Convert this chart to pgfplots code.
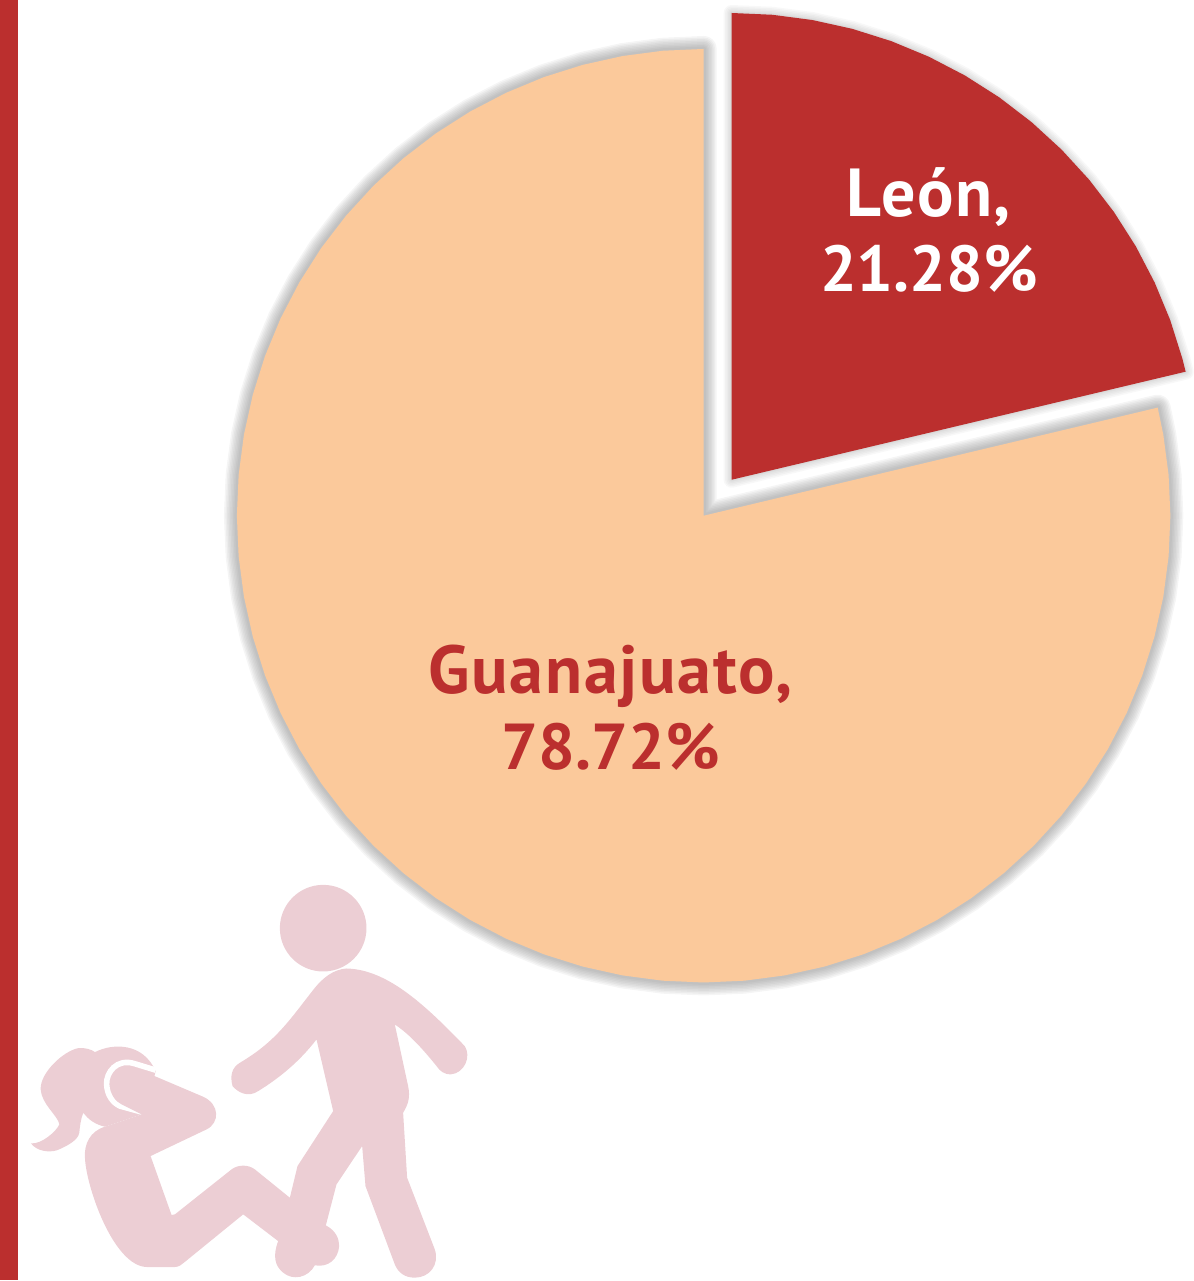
\documentclass[border=0pt]{standalone}
\usepackage{fontspec}
\setmainfont{PT Sans}[LetterSpace=2.5]
\newfontfamily\digitfont{PT Sans}[LetterSpace=0]
\usepackage{pgfplots}
\usepackage{pgfplotstable}
\pgfplotsset{compat=1.18}
\definecolor{pieRed}{RGB}{187,47,46}
\definecolor{piePeach}{RGB}{251,201,155}
\definecolor{iconPink}{RGB}{236,206,212}
% Shares: Leon 21.28 %, Guanajuato 78.72 %; slices as (angle, radius), apex first.
\pgfplotstableread{
a r
0 0
90 467
85 467
80 467
75 467
70 467
65 467
60 467
55 467
50 467
45 467
40 467
35 467
30 467
25 467
20 467
15 467
13.39 467
}\leonSlice
\pgfplotstableread{
a r
0 0
13.39 467
10 467
5 467
0 467
-5 467
-10 467
-15 467
-20 467
-25 467
-30 467
-35 467
-40 467
-45 467
-50 467
-55 467
-60 467
-65 467
-70 467
-75 467
-80 467
-85 467
-90 467
-95 467
-100 467
-105 467
-110 467
-115 467
-120 467
-125 467
-130 467
-135 467
-140 467
-145 467
-150 467
-155 467
-160 467
-165 467
-170 467
-175 467
-180 467
-185 467
-190 467
-195 467
-200 467
-205 467
-210 467
-215 467
-220 467
-225 467
-230 467
-235 467
-240 467
-245 467
-250 467
-255 467
-260 467
-265 467
-270 467
}\guanSlice
\pgfplotsset{softshadow/.style={draw=black!55,line join=round,fill=none,no markers,data cs=polar,line width=#1}}
\begin{document}
\begin{tikzpicture}
% icons, in coordinates of a 3x grid
\begin{scope}[x=0.16667pt,y=-0.16667pt,shift={(0pt,205.5pt)}]
\fill[iconPink] (970,176) circle (130);
% man
\fill[iconPink] (1040,297) .. controls (1160,300) and (1270,400) .. (1395,530)
  .. controls (1415,560) and (1395,612) .. (1352,615)
  .. controls (1335,615) and (1320,605) .. (1312,592)
  .. controls (1270,540) and (1230,495) .. (1185,465)
  -- (1225,650) .. controls (1232,685) and (1225,705) .. (1210,730)
  -- (1222,925) -- (1305,1140)
  .. controls (1320,1185) and (1290,1225) .. (1245,1225)
  .. controls (1215,1225) and (1195,1210) .. (1185,1185)
  -- (1097,950) -- (1087,830) -- (1010,945) -- (978,1068)
  .. controls (1010,1085) and (1018,1110) .. (1018,1130)
  .. controls (1015,1170) and (985,1195) .. (945,1188)
  .. controls (925,1225) and (880,1235) .. (850,1210)
  .. controls (825,1190) and (818,1160) .. (835,1115)
  -- (870,985) -- (893,890) -- (1000,725) -- (950,510)
  .. controls (900,575) and (840,625) .. (775,665)
  .. controls (745,685) and (715,670) .. (698,650)
  .. controls (690,620) and (695,595) .. (720,580)
  .. controls (830,515) and (870,450) .. (945,355)
  .. controls (970,325) and (1000,300) .. (1040,297) -- cycle;
% woman: hair and head
\fill[iconPink] (285,548) .. controls (340,520) and (430,520) .. (467,605)
  -- (440,730) -- (315,772)
  .. controls (285,765) and (265,750) .. (250,730)
  .. controls (242,750) and (240,770) .. (238,790)
  .. controls (235,815) and (190,835) .. (170,843)
  .. controls (145,850) and (110,845) .. (93,822)
  .. controls (125,825) and (170,785) .. (178,765)
  .. controls (175,740) and (125,705) .. (122,660)
  .. controls (120,610) and (190,545) .. (235,536)
  .. controls (255,534) and (275,540) .. (285,548) -- cycle;
\draw[white,line width=2.8pt] (467,602) -- (405,583) .. controls (350,565) and (318,610) .. (320,645)
  .. controls (322,680) and (340,700) .. (360,710) -- (440,732);
% woman: body, arm and leg
\fill[iconPink] (315,772) .. controls (270,785) and (252,825) .. (255,865)
  .. controls (258,950) and (340,1190) .. (440,1193)
  -- (525,1193) .. controls (535,1193) and (545,1187) .. (552,1180)
  -- (730,1035) -- (900,1165) -- (960,1100) -- (870,985)
  -- (765,900) .. controls (745,885) and (715,885) .. (695,900)
  -- (525,1035) -- (515,1037) -- (452,860) -- (620,780)
  .. controls (660,760) and (660,705) .. (610,682)
  -- (410,597) .. controls (370,585) and (335,610) .. (333,645)
  .. controls (332,675) and (345,695) .. (365,705)
  -- (425,735) -- cycle;
\end{scope}
\begin{axis}[
  scale only axis,width=605pt,height=640.5pt,
  xmin=-704,xmax=506,ymin=-765,ymax=516,
  axis lines=none,clip=false]
\fill[pieRed] (axis cs:-704,-765) rectangle (axis cs:-686,516);
\pgfplotsinvokeforeach{13,11.5,10,8.5,7,5.5,4,2.5}{
  \addplot[softshadow=#1pt,draw opacity=0.07] table[x=a,y=r] {\guanSlice} --cycle;
}
\addplot[data cs=polar,no markers,draw=none,fill=piePeach] table[x=a,y=r] {\guanSlice} --cycle;
\pgfplotsinvokeforeach{8,6.5,5,3.5,2,1}{
  \addplot[softshadow=#1pt,draw opacity=0.05,xshift=14pt,yshift=18pt] table[x=a,y=r] {\leonSlice} --cycle;
}
\addplot[data cs=polar,no markers,draw=none,fill=pieRed,xshift=14pt,yshift=18pt] table[x=a,y=r] {\leonSlice} --cycle;
\node[align=center,text=white,font=\bfseries\fontsize{32}{37.75}\selectfont] at (axis cs:225.5,286) {{\fontsize{34}{37.75}\selectfont León,}\\{\digitfont\bfseries\fontsize{32.5}{37.75}\selectfont 21.28\%}};
\node[align=center,text=pieRed,font=\bfseries\fontsize{32}{37.75}\selectfont] at (axis cs:-93,-192) {{\fontsize{34}{37.75}\selectfont Guanajuato,}\\{\digitfont\bfseries\fontsize{32.5}{37.75}\selectfont 78.72\%}};
\end{axis}
\end{tikzpicture}
\end{document}
